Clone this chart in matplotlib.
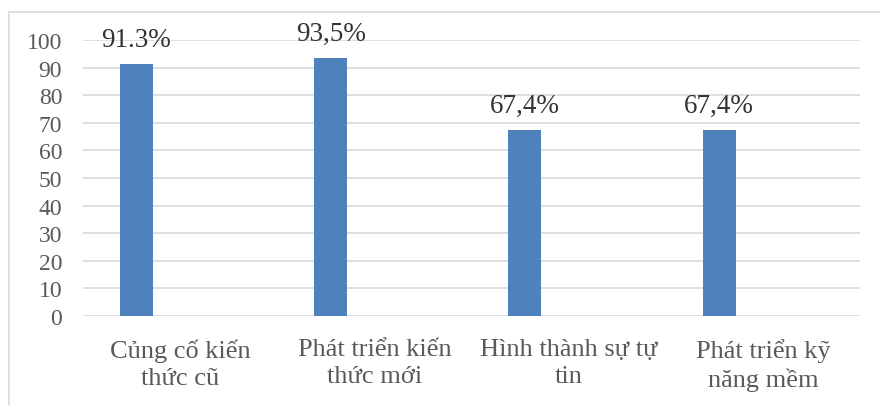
import matplotlib.pyplot as plt
from matplotlib.patches import Rectangle

categories = ["Củng cố kiến\nthức cũ", "Phát triển kiến\nthức mới",
              "Hình thành sự tự\ntin", "Phát triển kỹ\nnăng mềm"]
values = [91.3, 93.5, 67.4, 67.4]
labels = ["91.3%", "93,5%", "67,4%", "67,4%"]
yticks = list(range(0, 101, 10))

plt.rcParams["font.family"] = ["Liberation Serif", "DejaVu Serif"]
text_color = "#595959"
bar_color = "#4F81BD"
grid_color = "#D9D9D9"

fig = plt.figure(figsize=(8.8, 4.06), dpi=100)
ax = fig.add_axes([83 / 880, 89 / 406, 777 / 880, 276 / 406])

x = list(range(len(categories)))
xb = [i - 0.225 for i in x]
ax.bar(xb, values, width=0.17, color=bar_color, zorder=3)

for xi, v, lab in zip(xb, values, labels):
    ax.annotate(lab, (xi, v), xytext=(0, 17.5), textcoords="offset points",
                ha="center", va="center", fontsize=19.5, color="#333333")

ax.set_xlim(-0.5, len(categories) - 0.5)
ax.set_ylim(0, 100)
ax.set_yticks(yticks)
ax.set_xticks(x)
ax.set_xticklabels(categories, fontsize=19, color=text_color, linespacing=1.3)
ax.tick_params(axis="y", labelsize=17, colors=text_color, length=0, pad=15)
ax.tick_params(axis="x", length=0, pad=16)
ax.grid(axis="y", color=grid_color, linewidth=1.2, zorder=0)
for s in ax.spines.values():
    s.set_visible(False)

# outer chart frame (partly cropped)
fig.patches.append(Rectangle((9 / 880, -0.1), 1.2, (406 - 13) / 406 + 0.1,
                             transform=fig.transFigure, fill=False,
                             edgecolor=grid_color, linewidth=1.2))

plt.savefig("out.png", dpi=100)
